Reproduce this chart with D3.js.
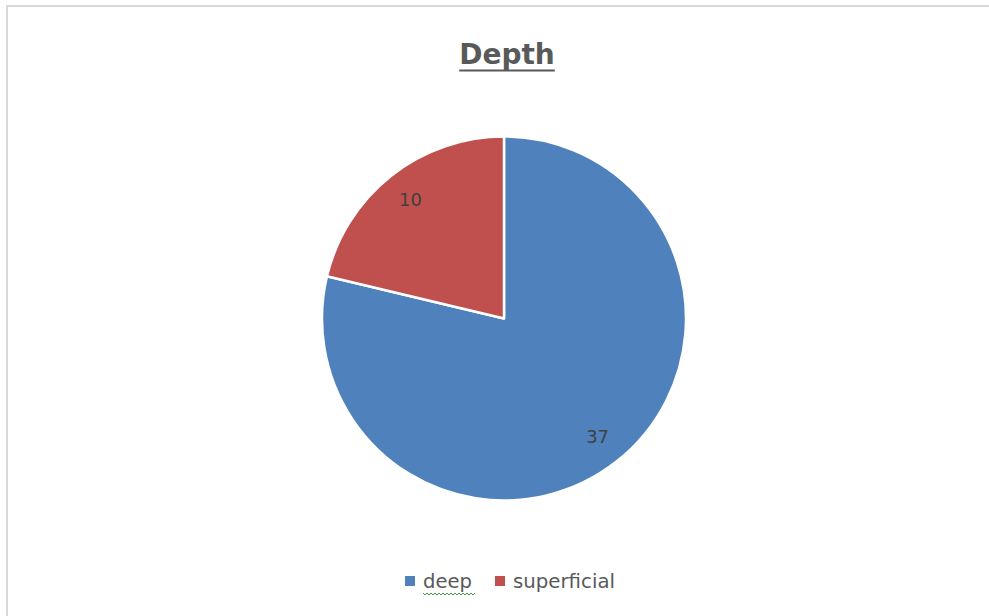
<!DOCTYPE html>
<html><head><meta charset="utf-8">
<script src="https://cdn.jsdelivr.net/npm/d3@7"></script>
<style>html,body{margin:0;padding:0;background:#fff;}svg{display:block;}</style>
</head><body>
<svg id="c" width="989" height="616"></svg>
<script>
const categories = ["deep", "superficial"];
const values = [37, 10];
const colors = ["#4F81BD", "#C0504D"];
const title = "Depth";

const svg = d3.select("#c");
const W = 989, H = 616;
const font = "'DejaVu Sans', Verdana, sans-serif";

svg.append("rect").attr("x", 7).attr("y", 6).attr("width", W).attr("height", H)
  .attr("fill", "#fff").attr("stroke", "#d9d9d9").attr("stroke-width", 2);

const t = svg.append("text").attr("x", 507).attr("y", 64).attr("text-anchor", "middle")
  .attr("font-family", font).attr("font-weight", "bold").attr("font-size", 28)
  .attr("fill", "#595959").text(title);
const tb = t.node().getBBox();
svg.append("line").attr("x1", tb.x).attr("x2", tb.x + tb.width).attr("y1", 70.5).attr("y2", 70.5)
  .attr("stroke", "#595959").attr("stroke-width", 2);

const cx = 504, cy = 318.5, r = 182;
const data = categories.map((c, i) => ({cat: c, v: values[i], color: colors[i]}));
const pie = d3.pie().sort(null).value(d => d.v);
const arc = d3.arc().innerRadius(0).outerRadius(r);
const labelArc = d3.arc().innerRadius(r * 0.83).outerRadius(r * 0.83);
const g = svg.append("g").attr("transform", `translate(${cx},${cy})`);
const arcs = pie(data);
g.selectAll("path").data(arcs).join("path").attr("d", arc)
  .attr("fill", d => d.data.color).attr("stroke", "#fff").attr("stroke-width", 2.5)
  .attr("stroke-linejoin", "round");
g.selectAll("text").data(arcs).join("text")
  .attr("transform", d => `translate(${labelArc.centroid(d)})`)
  .attr("text-anchor", "middle").attr("dy", "0.35em")
  .attr("font-family", font).attr("font-size", 18).attr("fill", "#404040")
  .text(d => d.data.v);

// legend
const legendX = [405, 495];
const legendW = [49, 102];
const lg = svg.append("g");
data.forEach((d, i) => {
  lg.append("rect").attr("x", legendX[i]).attr("y", 576).attr("width", 10).attr("height", 10).attr("fill", d.color);
  lg.append("text").attr("x", legendX[i] + 18).attr("y", 588).attr("font-family", font)
    .attr("font-size", 19.5).attr("fill", "#595959")
    .attr("textLength", legendW[i]).attr("lengthAdjust", "spacingAndGlyphs").text(d.cat);
});
// spell-check squiggle under "deep"
let sq = "M423,593";
for (let x = 423; x < 472; x += 4) sq += ` L${x + 2},595 L${x + 4},593`;
lg.append("path").attr("d", sq).attr("fill", "none").attr("stroke", "#3aa040").attr("stroke-width", 1);
</script>
</body></html>
